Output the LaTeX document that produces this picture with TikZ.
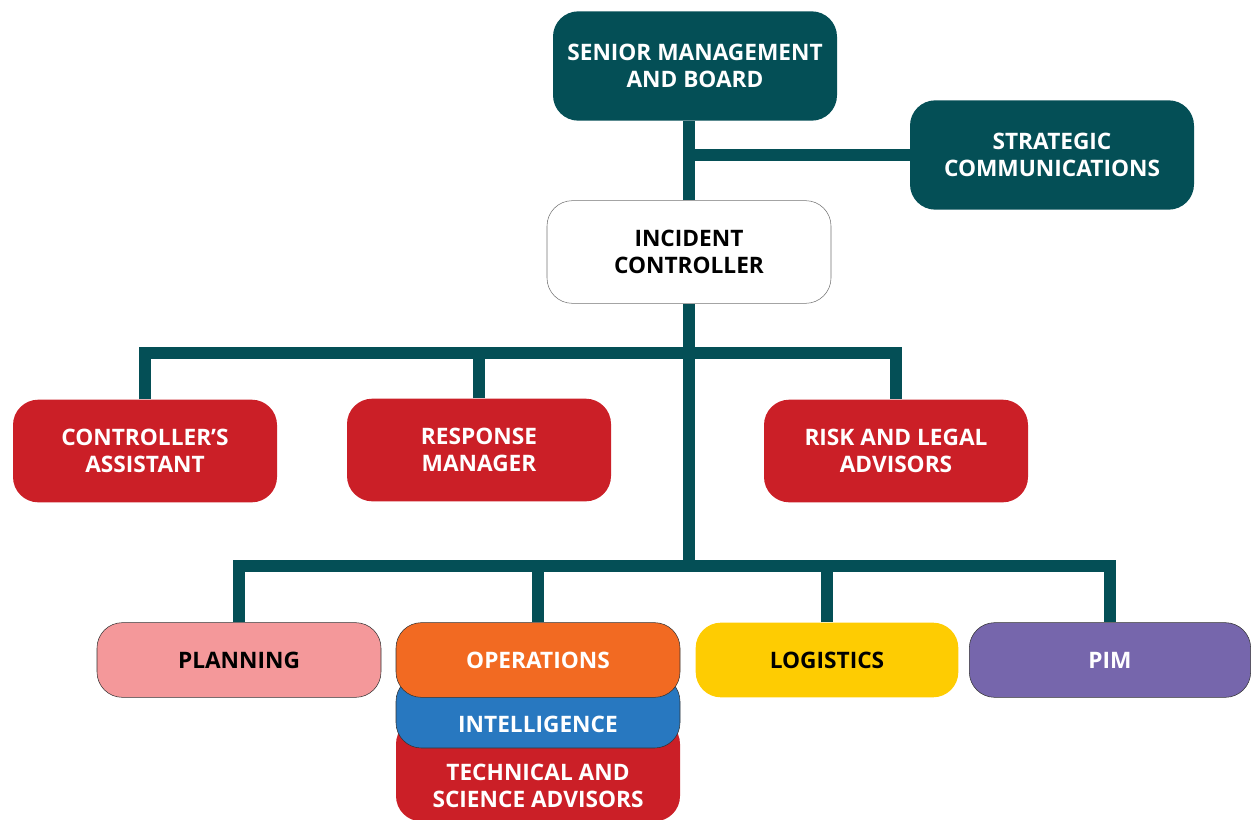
\documentclass[tikz,border=0pt]{standalone}
\usepackage{fontspec}
\setmainfont{Open Sans}
\usetikzlibrary{positioning}
\usetikzlibrary{backgrounds}
\definecolor{teal}{HTML}{044F56}
\definecolor{boxred}{HTML}{CB1F27}
\definecolor{pink}{HTML}{F4989A}
\definecolor{orange}{HTML}{F26A22}
\definecolor{intelblue}{HTML}{2878C0}
\definecolor{yellow}{HTML}{FECC02}
\definecolor{purple}{HTML}{7666AC}
\tikzset{
	unit/.style={rectangle, rounded corners=19pt, align=center, font=\fontsize{17}{20}\selectfont\bfseries, inner sep=2pt},
	top/.style={unit, fill=teal, text=white, minimum width=213pt, minimum height=82pt},
	ctrl/.style={unit, draw=black!55, thin, fill=white, minimum width=213pt, minimum height=77pt},
	staff/.style={unit, fill=boxred, text=white, minimum width=198pt, minimum height=77pt},
	% bottom row of functions
	func/.style={unit, minimum width=213pt, minimum height=56pt},
	edge/.style={draw=black!80, thin},
	% text of the stacked boxes sits low
	lowtext/.style 2 args={label={[text=white, font=\fontsize{17}{20}\selectfont\bfseries, align=center, yshift=#1]center:#2}},
	link/.style={draw=teal, line width=9pt, line join=miter},
}
\begin{document}
\begin{tikzpicture}[x=0.75pt, y=-0.75pt]
		\useasboundingbox (0,0) rectangle (1253,820);
		
		\node (senior) [top] at (695,66) {SENIOR MANAGEMENT\\AND BOARD};
		\node (strat) [top] at (1052,155) {STRATEGIC\\COMMUNICATIONS};
		\node (ic) [ctrl] at (689,252) {INCIDENT\\CONTROLLER};
		
		\node (ca) [staff] at (145,451) {CONTROLLER'S\\ASSISTANT};
		\node (rm) [staff] at (479,450) {RESPONSE\\MANAGER};
		\node (rl) [staff] at (896,451) {RISK AND LEGAL\\ADVISORS};
		
		\node (tech) [func, fill=boxred, minimum height=77pt,
			lowtext={-12pt}{TECHNICAL AND\\SCIENCE ADVISORS}] at (538,770) {};
		\node (intel) [func, edge, fill=intelblue, minimum height=54pt,
			lowtext={-9pt}{INTELLIGENCE}] at (538,712) {};
		\node (ops) [func, edge, fill=orange, text=white] at (538,660) {OPERATIONS};
		\node (plan) [func, edge, fill=pink] at (239,660) {PLANNING};
		\node (logi) [func, fill=yellow, minimum width=197pt] at (827,660) {LOGISTICS};
		\node (pim) [func, edge, fill=purple, text=white, minimum width=211pt] at (1110,660) {PIM};
		
		\coordinate (upbus) at (689,353);
		\coordinate (lowbus) at (689,566);
		
		\begin{scope}[on background layer]
		\begin{scope}[link]
			\draw (ic.north) -- (ic.north |- senior.south);
			\draw (strat.west) -- (strat.west -| ic.north);
			\draw (ic.south) -- (lowbus);
			
			\draw (ca.north) |- (upbus) -| (rl.north);
			\draw (rm.north) -- (rm.north |- upbus);
			
			\draw (plan.north) |- (lowbus) -| (pim.north);
			\draw (ops.north) -- (ops.north |- lowbus);
			\draw (logi.north) -- (logi.north |- lowbus);
		\end{scope}
		\end{scope}
	\end{tikzpicture}
\end{document}
